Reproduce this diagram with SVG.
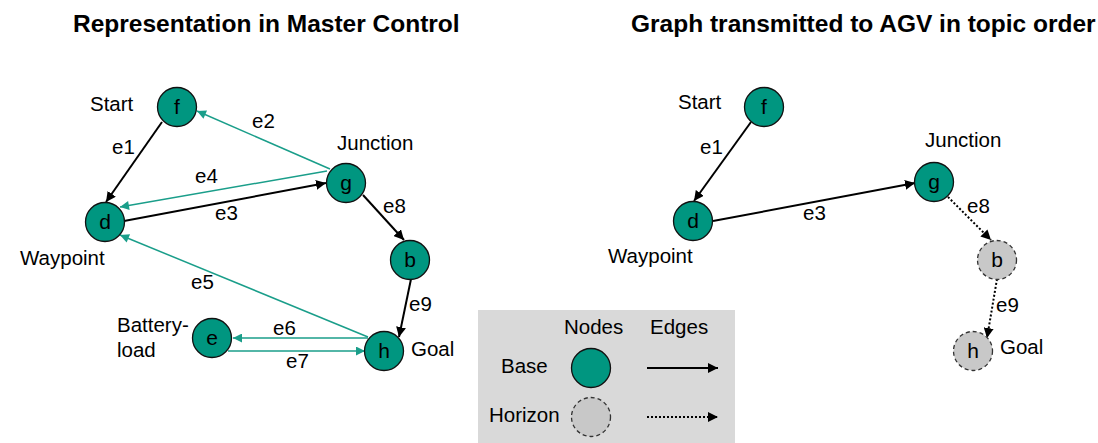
<svg xmlns="http://www.w3.org/2000/svg" width="1098" height="443" viewBox="0 0 1098 443">
<defs>
<style>
text{font-family:"Liberation Sans",Arial,sans-serif;fill:#000}
.title{font-size:24.5px;font-weight:bold}
.lbl{font-size:20.5px}
.nl{font-size:21px;text-anchor:middle}
.base{fill:#009680;stroke:#111;stroke-width:1.3}
.hor{fill:#c8c8c8;stroke:#333;stroke-width:1.3;stroke-dasharray:4 3}
.eb{stroke:#000;stroke-width:2;fill:none;marker-end:url(#ab)}
.et{stroke:#1a9e8a;stroke-width:1.5;fill:none;marker-end:url(#at)}
.ed{stroke:#000;stroke-width:2;fill:none;stroke-dasharray:2 2;marker-end:url(#ab)}
</style>
<marker id="ab" viewBox="0 0 10 10" refX="10" refY="5" markerWidth="5" markerHeight="5" markerUnits="strokeWidth" orient="auto"><path d="M0,0 L10,5 L0,10 z" fill="#000"/></marker>
<marker id="at" viewBox="0 0 10 10" refX="10" refY="5" markerWidth="7" markerHeight="6" markerUnits="strokeWidth" orient="auto"><path d="M0,0 L10,5 L0,10 z" fill="#1a9e8a"/></marker>
</defs>
<rect width="1098" height="443" fill="#fff"/>
<text class="title" x="73" y="32">Representation in Master Control</text>
<text class="title" x="631" y="32">Graph transmitted to AGV in topic order</text>

<g id="legend">
<rect x="478" y="310" width="257" height="133" fill="#d9d9d9"/>
<text class="lbl" x="564" y="334">Nodes</text>
<text class="lbl" x="650" y="334">Edges</text>
<text class="lbl" x="501" y="373">Base</text>
<text class="lbl" x="489" y="422">Horizon</text>
<circle class="base" cx="591" cy="368" r="19.5"/>
<circle class="hor" cx="591" cy="417" r="19.5"/>
<line class="eb" x1="647" y1="368" x2="718" y2="368"/>
<line class="ed" x1="647" y1="417" x2="718" y2="417"/>
</g>

<g id="connectors">
<line class="eb" x1="162" y1="122" x2="106" y2="202"/>
<line class="et" x1="330" y1="169" x2="197" y2="111"/>
<line class="et" x1="327" y1="171" x2="120" y2="207"/>
<line class="eb" x1="124" y1="221" x2="326" y2="183"/>
<line class="eb" x1="363" y1="195" x2="404" y2="240"/>
<line class="eb" x1="411" y1="279" x2="399" y2="337"/>
<line class="et" x1="368" y1="337" x2="120" y2="235"/>
<line class="et" x1="368" y1="338" x2="233" y2="338"/>
<line class="et" x1="228" y1="351" x2="365" y2="351"/>
<line class="eb" x1="751" y1="122" x2="694" y2="201"/>
<line class="eb" x1="713" y1="221" x2="915" y2="183"/>
<line class="ed" x1="948" y1="197" x2="991" y2="240"/>
<line class="ed" x1="997" y1="279" x2="987" y2="338"/>
</g>

<g id="edge-labels">
<text class="lbl" x="112" y="154">e1</text>
<text class="lbl" x="252" y="128">e2</text>
<text class="lbl" x="215" y="220">e3</text>
<text class="lbl" x="195" y="183">e4</text>
<text class="lbl" x="191" y="289">e5</text>
<text class="lbl" x="273" y="335">e6</text>
<text class="lbl" x="286" y="368">e7</text>
<text class="lbl" x="383" y="213">e8</text>
<text class="lbl" x="409" y="311">e9</text>
<text class="lbl" x="700" y="154">e1</text>
<text class="lbl" x="803" y="220">e3</text>
<text class="lbl" x="967" y="213">e8</text>
<text class="lbl" x="996" y="312">e9</text>
</g>

<g id="L-f"><circle class="base" cx="177" cy="107" r="19.5"/><text class="nl" x="177" y="114">f</text><text class="lbl" x="90" y="111">Start</text></g>
<g id="L-d"><circle class="base" cx="105" cy="222" r="19.5"/><text class="nl" x="105" y="229">d</text><text class="lbl" x="20" y="265">Waypoint</text></g>
<g id="L-g"><circle class="base" cx="346" cy="183" r="19.5"/><text class="nl" x="346" y="190">g</text><text class="lbl" x="337" y="150">Junction</text></g>
<g id="L-b"><circle class="base" cx="410" cy="260" r="19.5"/><text class="nl" x="410" y="267">b</text></g>
<g id="L-e"><circle class="base" cx="212" cy="338" r="19.5"/><text class="nl" x="212" y="345">e</text><text class="lbl" x="117" y="332">Battery-</text><text class="lbl" x="117" y="357">load</text></g>
<g id="L-h"><circle class="base" cx="384" cy="351" r="19.5"/><text class="nl" x="384" y="358">h</text><text class="lbl" x="411" y="356">Goal</text></g>

<g id="R-f"><circle class="base" cx="764" cy="107" r="19.5"/><text class="nl" x="764" y="114">f</text><text class="lbl" x="678" y="109">Start</text></g>
<g id="R-d"><circle class="base" cx="693" cy="221" r="19.5"/><text class="nl" x="693" y="228">d</text><text class="lbl" x="608" y="263">Waypoint</text></g>
<g id="R-g"><circle class="base" cx="934" cy="182" r="19.5"/><text class="nl" x="934" y="189">g</text><text class="lbl" x="925" y="147">Junction</text></g>
<g id="R-b"><circle class="hor" cx="997" cy="260" r="19.5"/><text class="nl" x="997" y="267">b</text></g>
<g id="R-h"><circle class="hor" cx="973" cy="351" r="19.5"/><text class="nl" x="973" y="358">h</text><text class="lbl" x="1000" y="354">Goal</text></g>
</svg>
